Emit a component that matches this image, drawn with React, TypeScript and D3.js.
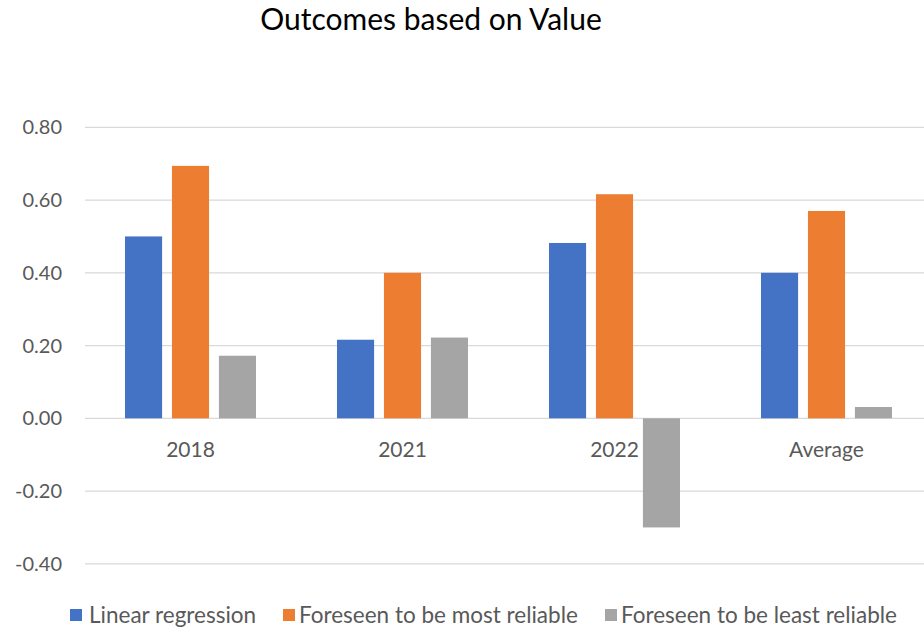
import React, { useEffect } from 'react';
import * as d3 from 'd3';

const categories = ['2018', '2021', '2022', 'Average'];
const seriesNames = ['Linear regression', 'Foreseen to be most reliable', 'Foreseen to be least reliable'];
const linearRegression = [0.50, 0.216, 0.482, 0.40];
const mostReliable = [0.694, 0.40, 0.616, 0.570];
const leastReliable = [0.172, 0.222, -0.30, 0.031];
const yTicks = [-0.4, -0.2, 0, 0.2, 0.4, 0.6, 0.8];
const colors = ['#4472C4', '#ED7D31', '#A5A5A5'];

const series = [linearRegression, mostReliable, leastReliable];

const W = 924;
const H = 632;
const font = 'Lato, "Open Sans", sans-serif';

const App = () => {
  useEffect(() => {
    document.body.style.margin = '0';
  }, []);

  // plot area (runs off the right edge like the original)
  const x = d3.scaleBand<string>().domain(categories).range([84.5, 932.5]).paddingInner(0).paddingOuter(0);
  const y = d3.scaleLinear().domain([-0.4, 0.8]).range([563.8, 127.3]);

  // bars inside a category: 3 bars of ~37px with ~10px gaps
  const inner = d3
    .scaleBand<number>()
    .domain([0, 1, 2])
    .range([40.5, x.bandwidth() - 40.5])
    .paddingInner(0.21);

  const legendX = [[70, 89], [283, 299], [605, 621]];

  return (
    <svg width={W} height={H} style={{ display: 'block', background: '#fff' }}>
      <text x={431} y={30} textAnchor="middle" fontFamily={font} fontSize={30} fill="#000">
        Outcomes based on Value
      </text>

      {/* gridlines + y labels */}
      {yTicks.map((t) => (
        <g key={t}>
          <line x1={85} x2={W} y1={y(t)} y2={y(t)} stroke="#D9D9D9" strokeWidth={1.3} />
          <text
            x={62}
            y={y(t)}
            dy="0.35em"
            textAnchor="end"
            fontFamily={font}
            fontSize={20}
            fill="#595959"
          >
            {t.toFixed(2)}
          </text>
        </g>
      ))}

      {/* bars */}
      {series.map((vals, si) =>
        vals.map((v, ci) => {
          const bx = (x(categories[ci]) ?? 0) + (inner(si) ?? 0);
          const y0 = y(0);
          const y1 = y(v);
          return (
            <rect
              key={`${si}-${ci}`}
              x={bx}
              y={Math.min(y0, y1)}
              width={inner.bandwidth()}
              height={Math.abs(y1 - y0)}
              fill={colors[si]}
            />
          );
        })
      )}

      {/* category labels */}
      {categories.map((c) => (
        <text
          key={c}
          x={(x(c) ?? 0) + x.bandwidth() / 2}
          y={457}
          textAnchor="middle"
          fontFamily={font}
          fontSize={21}
          fill="#595959"
        >
          {c}
        </text>
      ))}

      {/* legend */}
      {seriesNames.map((name, i) => (
        <g key={name}>
          <rect x={legendX[i][0]} y={609} width={12} height={12} fill={colors[i]} />
          <text x={legendX[i][1]} y={615} dy="0.35em" fontFamily={font} fontSize={22.5} fill="#595959">
            {name}
          </text>
        </g>
      ))}
    </svg>
  );
};

export default App;
